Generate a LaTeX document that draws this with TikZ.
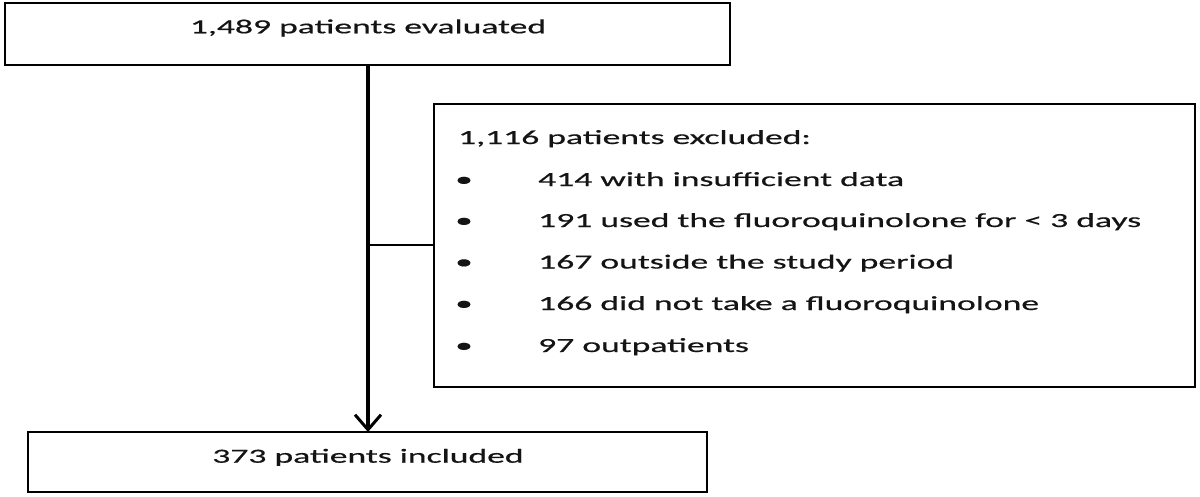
\documentclass[tikz,border=0pt]{standalone}
\usepackage{fontspec}
\setmainfont[FakeStretch=1.78,FakeBold=0.6]{Carlito}
\usetikzlibrary{arrows.meta}
\begin{document}
\begin{tikzpicture}[x=1pt,y=-1pt,
  box/.style={draw=black,line width=2.2pt,rectangle,inner sep=0pt},
  txt/.style={inner sep=0pt,text=black!92,font=\fontsize{20}{24}\selectfont},
  flow/.style={line width=3.5pt,-{Straight Barb[length=15pt,width=26pt,line width=3pt]}},
  link/.style={line width=2pt}]
\useasboundingbox (0,0) rectangle (1200,496);
% boxes
\node[box,minimum width=725pt,minimum height=62pt] (top) at (367.5,34) {};
\node[box,minimum width=679pt,minimum height=60pt] (bot) at (367.5,462) {};
\node[box,minimum width=761pt,minimum height=283pt] (excl) at (814.5,245.5) {};
% texts
\node[txt,anchor=base] (ttop) at (368,33.3) {1,489 patients evaluated};
\node[txt,anchor=base] (tbot) at (368,462.7) {373 patients included};
\node[txt,anchor=base west] (thead) at (458,144) {1,116 patients excluded:};
\node[txt,anchor=base] (b1) at (464,186) {•};
\node[txt,anchor=base west] (i1) at (538,186) {414 with insufficient data};
\node[txt,anchor=base] (b2) at (464,227) {•};
\node[txt,anchor=base west] (i2) at (538,227) {191 used the fluoroquinolone for < 3 days};
\node[txt,anchor=base] (b3) at (464,268.5) {•};
\node[txt,anchor=base west] (i3) at (538,268.5) {167 outside the study period};
\node[txt,anchor=base] (b4) at (464,310) {•};
\node[txt,anchor=base west] (i4) at (538,310) {166 did not take a fluoroquinolone};
\node[txt,anchor=base] (b5) at (464,352) {•};
\node[txt,anchor=base west] (i5) at (538,352) {97 outpatients};
% connectors
\coordinate (src) at (368,65);
\coordinate (dst) at (368,432);
\coordinate (junc) at (368,245);
\draw[flow] (src) -- (dst);
\draw[link] (junc) -- (junc -| excl.west);
\end{tikzpicture}
\end{document}
